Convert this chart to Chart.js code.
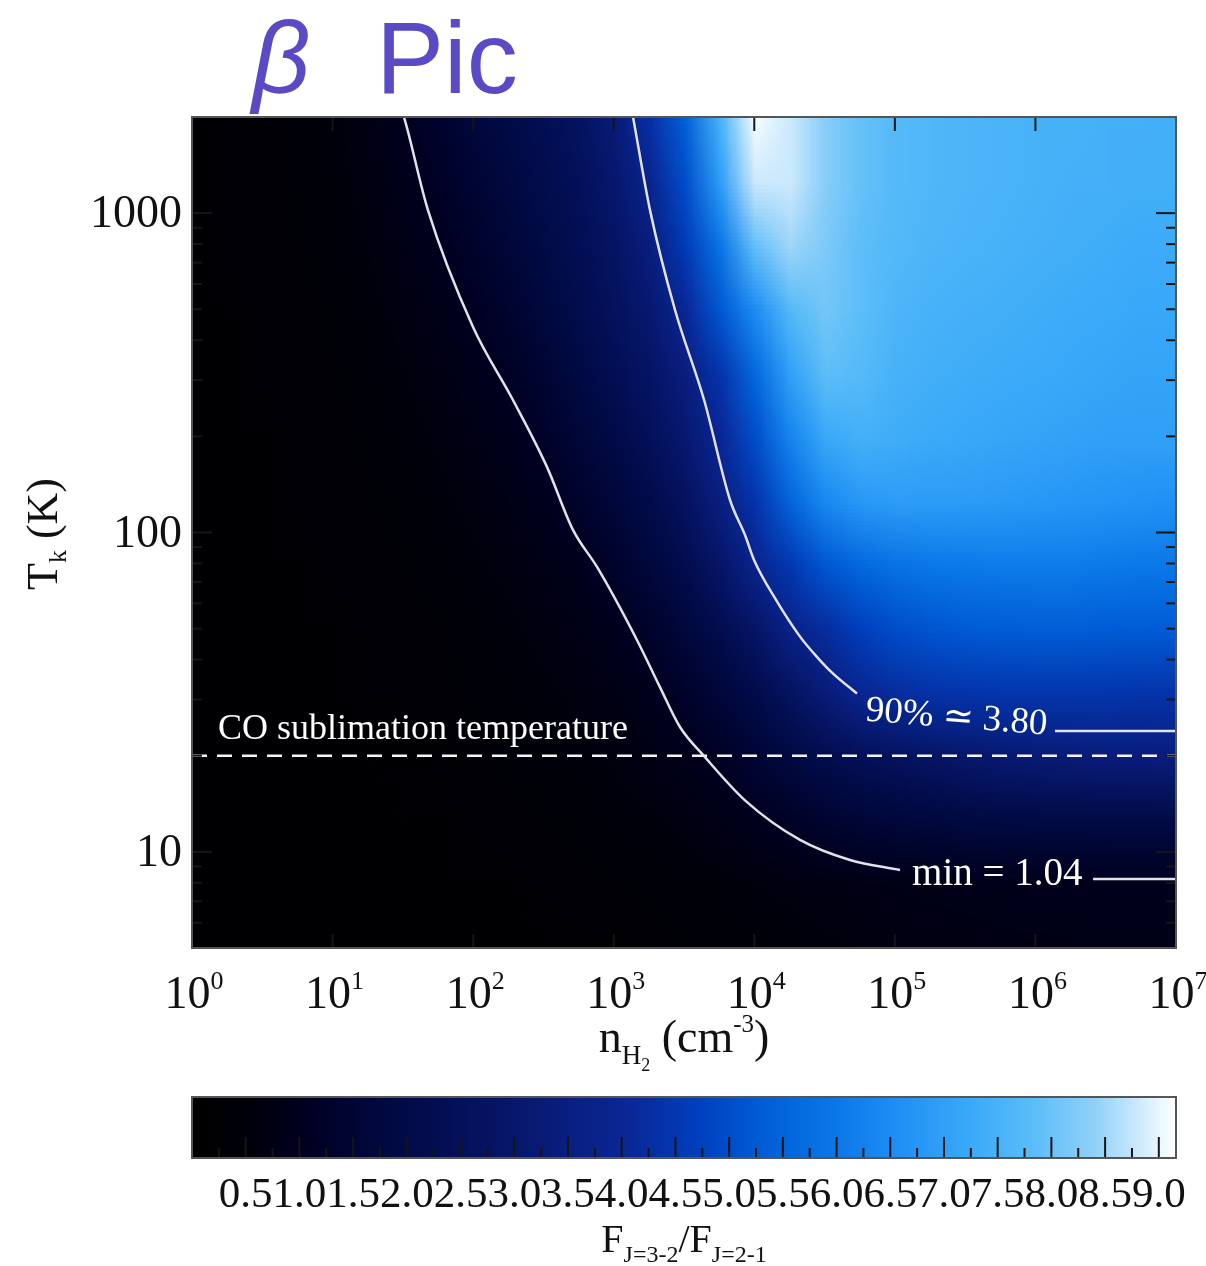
<!DOCTYPE html>
<html>
<head>
<meta charset="utf-8">
<script src="https://cdn.jsdelivr.net/npm/chart.js@4.4.1/dist/chart.umd.min.js"></script>
<style>
  html, body { margin: 0; padding: 0; background: #fff; }
  #wrap { position: relative; width: 1206px; height: 1266px; overflow: hidden; }
  canvas { position: absolute; left: 0; }
  #main { top: 0; }
  #bar { top: 1080px; }
</style>
</head>
<body>
<div id="wrap">
  <canvas id="main" width="1206" height="1080"></canvas>
  <canvas id="bar" width="1206" height="186"></canvas>
</div>
<script>
// grid of the line ratio map
const nDensity = [1, 1.778, 3.162, 5.623, 10, 17.78, 31.62, 56.23, 100, 177.8, 316.2, 562.3,
  1000, 1778, 3162, 5623, 10000, 17783, 31623, 56234, 100000, 177828, 316228, 562341,
  1000000, 1778279, 3162278, 5623413, 10000000];
const tempGrid = [1995, 1259, 794, 501, 316, 200, 126, 79.4, 50.1, 31.6, 20.0, 12.6, 7.94, 5.01];

const ratioT1995 = [0.2, 0.25, 0.3, 0.4, 0.55, 0.75, 1.04, 1.35, 1.7, 2.0, 2.35, 2.75, 3.3, 4.3, 5.4, 7.5, 9.1, 8.8, 8.3, 7.95, 7.75, 7.65, 7.6, 7.55, 7.5, 7.5, 7.45, 7.45, 7.4];
const ratioT1259 = [0.2, 0.25, 0.3, 0.38, 0.5, 0.68, 0.9, 1.2, 1.5, 1.8, 2.15, 2.55, 3.05, 3.85, 5.0, 6.9, 8.8, 8.8, 8.3, 7.95, 7.75, 7.65, 7.6, 7.55, 7.5, 7.45, 7.45, 7.4, 7.4];
const ratioT794 = [0.2, 0.24, 0.28, 0.35, 0.45, 0.6, 0.8, 1.0, 1.3, 1.6, 1.95, 2.35, 2.8, 3.4, 4.6, 5.9, 7.9, 8.5, 8.2, 7.85, 7.7, 7.6, 7.55, 7.5, 7.45, 7.4, 7.35, 7.3, 7.3];
const ratioT501 = [0.18, 0.22, 0.26, 0.32, 0.4, 0.52, 0.68, 0.85, 1.1, 1.4, 1.75, 2.15, 2.6, 3.1, 4.0, 5.2, 6.5, 7.7, 8.1, 7.85, 7.6, 7.5, 7.45, 7.4, 7.35, 7.3, 7.25, 7.2, 7.2];
const ratioT316 = [0.17, 0.2, 0.24, 0.29, 0.36, 0.45, 0.58, 0.73, 0.92, 1.15, 1.5, 1.9, 2.35, 2.85, 3.45, 4.4, 5.6, 7.0, 7.85, 7.75, 7.5, 7.4, 7.35, 7.3, 7.25, 7.2, 7.15, 7.1, 7.1];
const ratioT200 = [0.16, 0.19, 0.22, 0.26, 0.32, 0.4, 0.5, 0.62, 0.78, 0.96, 1.25, 1.6, 2.0, 2.5, 3.1, 4.0, 5.0, 6.3, 7.2, 7.45, 7.35, 7.25, 7.2, 7.15, 7.1, 7.05, 7.0, 7.0, 7.0];
const ratioT126 = [0.15, 0.17, 0.2, 0.23, 0.28, 0.34, 0.42, 0.52, 0.65, 0.8, 0.98, 1.3, 1.65, 2.1, 2.65, 3.5, 4.4, 5.5, 6.4, 6.8, 6.9, 6.9, 6.9, 6.85, 6.8, 6.75, 6.7, 6.65, 6.6];
const ratioT79 = [0.14, 0.16, 0.18, 0.21, 0.25, 0.3, 0.36, 0.44, 0.54, 0.66, 0.8, 0.98, 1.3, 1.7, 2.2, 2.9, 3.8, 4.5, 5.2, 5.6, 5.85, 6.0, 6.05, 6.1, 6.1, 6.1, 6.05, 6.0, 6.0];
const ratioT50 = [0.13, 0.15, 0.17, 0.19, 0.22, 0.26, 0.31, 0.37, 0.45, 0.54, 0.65, 0.8, 0.98, 1.3, 1.7, 2.2, 2.9, 3.7, 4.2, 4.7, 5.0, 5.15, 5.25, 5.3, 5.35, 5.35, 5.3, 5.3, 5.3];
const ratioT32 = [0.12, 0.14, 0.15, 0.17, 0.2, 0.23, 0.27, 0.32, 0.38, 0.45, 0.54, 0.65, 0.78, 0.95, 1.25, 1.65, 2.1, 2.7, 3.3, 3.9, 4.2, 4.35, 4.4, 4.45, 4.45, 4.45, 4.45, 4.4, 4.4];
const ratioT20 = [0.11, 0.12, 0.14, 0.15, 0.17, 0.2, 0.23, 0.27, 0.32, 0.38, 0.45, 0.53, 0.63, 0.75, 0.9, 1.15, 1.5, 1.85, 2.2, 2.45, 2.65, 2.85, 3.0, 3.12, 3.22, 3.3, 3.35, 3.38, 3.4];
const ratioT13 = [0.1, 0.11, 0.12, 0.13, 0.15, 0.17, 0.19, 0.22, 0.26, 0.3, 0.35, 0.41, 0.48, 0.56, 0.66, 0.8, 0.98, 1.2, 1.4, 1.55, 1.65, 1.73, 1.8, 1.85, 1.88, 1.9, 1.92, 1.94, 1.95];
const ratioT8 = [0.1, 0.1, 0.11, 0.12, 0.13, 0.14, 0.16, 0.18, 0.2, 0.22, 0.25, 0.29, 0.33, 0.38, 0.45, 0.51, 0.58, 0.65, 0.7, 0.74, 0.8, 0.84, 0.87, 0.9, 0.92, 0.93, 0.94, 0.95, 0.95];
const ratioT5 = [0.08, 0.08, 0.09, 0.09, 0.1, 0.11, 0.12, 0.13, 0.15, 0.17, 0.19, 0.22, 0.25, 0.29, 0.34, 0.39, 0.45, 0.5, 0.55, 0.6, 0.64, 0.68, 0.71, 0.74, 0.76, 0.78, 0.79, 0.8, 0.8];
const ratioGrid = [ratioT1995, ratioT1259, ratioT794, ratioT501, ratioT316, ratioT200, ratioT126,
  ratioT79, ratioT50, ratioT32, ratioT20, ratioT13, ratioT8, ratioT5];

// contours
const minContourN = [29.2, 32.2, 47.7, 99.8, 192, 335, 513, 761, 1466, 2133, 2960, 4460, 8590, 21150, 47970, 108900];
const minContourT = [2259, 2000, 1022, 440, 260, 160.5, 101.9, 78.0, 46.0, 32.8, 24.6, 19.8, 14.5, 10.9, 9.43, 8.77];
const pctContourN = [1284, 1372, 1812, 2730, 4396, 6720, 8590, 9960, 14280, 21150, 27480, 35700, 53800];
const pctContourT = [2345, 2000, 1022, 497.5, 260, 126.4, 98.2, 82, 61.5, 47.2, 41.1, 36.4, 31.3];
const minTailN = [2.57e6, 1.2e7];
const minTailT = [8.22, 8.22];
const pctTailN = [1.377e6, 1.2e7];
const pctTailT = [23.9, 23.9];
const coLineN = [1, 1e7];
const coLineT = [20, 20];

// axes
const xTickValues = [1, 10, 100, 1e3, 1e4, 1e5, 1e6, 1e7];
const xTickPowers = ['0', '1', '2', '3', '4', '5', '6', '7'];
const yTickValues = [10, 100, 1000];
const yTickLabels = ['10', '100', '1000'];
const yMinorValues = [5, 6, 7, 8, 9, 20, 30, 40, 50, 60, 70, 80, 90, 200, 300, 400, 500, 600, 700, 800, 900, 2000];
const barTickLabels = ['0.5', '1.0', '1.5', '2.0', '2.5', '3.0', '3.5', '4.0', '4.5', '5.0', '5.5', '6.0', '6.5', '7.0', '7.5', '8.0', '8.5', '9.0'];
const barMinorValues = [0.25, 0.75, 1.25, 1.75, 2.25, 2.75, 3.25, 3.75, 4.25, 4.75, 5.25, 5.75, 6.25, 6.75, 7.25, 7.75, 8.25, 8.75];

// colour table
const cmapValues = [0, 0.5, 1.1, 1.7, 2.3, 2.9, 3.5, 4.1, 4.7, 5.3, 6.0, 6.6, 7.2, 7.8, 8.4, 9.0, 9.16];
const cmapColors = ['#000000', '#00000a', '#000022', '#00083c', '#030e52', '#061566', '#0a1e80', '#0a2898',
  '#003ebc', '#005cd6', '#0a78e8', '#2090f6', '#38a8f8', '#58bcf8', '#90d0f8', '#e8f6ff', '#ffffff'];

const serif = '"Liberation Serif", "Times New Roman", serif';
const sans = '"Liberation Sans", Arial, sans-serif';

function toRgb(hex) {
  return [parseInt(hex.slice(1, 3), 16), parseInt(hex.slice(3, 5), 16), parseInt(hex.slice(5, 7), 16)];
}
function ratioColor(v) {
  const n = cmapValues.length;
  if (v <= cmapValues[0]) return toRgb(cmapColors[0]);
  for (let k = 1; k < n; k++) {
    if (v <= cmapValues[k]) {
      const t = (v - cmapValues[k - 1]) / (cmapValues[k] - cmapValues[k - 1]);
      const a = toRgb(cmapColors[k - 1]), b = toRgb(cmapColors[k]);
      return a.map((c, i) => Math.round(c + (b[i] - c) * t));
    }
  }
  return toRgb(cmapColors[n - 1]);
}
function pairs(xs, ys) {
  return xs.map((x, i) => ({ x: x, y: ys[i] }));
}
// text made of pieces: [text, size, baseline shift]
function drawParts(ctx, parts, x, y, center) {
  let w = 0;
  parts.forEach(p => { ctx.font = p[1] + 'px ' + serif; w += ctx.measureText(p[0]).width; });
  let cx = center ? x - w / 2 : x;
  ctx.textAlign = 'left';
  parts.forEach(p => {
    ctx.font = p[1] + 'px ' + serif;
    ctx.fillText(p[0], cx, y + p[2]);
    cx += ctx.measureText(p[0]).width;
  });
}

const gridPoints = [];
tempGrid.forEach((t, j) => nDensity.forEach((n, i) => gridPoints.push({ x: n, y: t, v: ratioGrid[j][i] })));

const heatmap = {
  id: 'heatmap',
  beforeDatasetsDraw(chart) {
    const { ctx, chartArea: a } = chart;
    const els = chart.getDatasetMeta(0).data;
    const nx = nDensity.length, ny = tempGrid.length;
    const off = document.createElement('canvas');
    off.width = nx; off.height = ny;
    const octx = off.getContext('2d');
    const img = octx.createImageData(nx, ny);
    gridPoints.forEach((p, k) => {
      const c = ratioColor(p.v);
      img.data[k * 4] = c[0]; img.data[k * 4 + 1] = c[1]; img.data[k * 4 + 2] = c[2]; img.data[k * 4 + 3] = 255;
    });
    octx.putImageData(img, 0, 0);
    const first = els[0], last = els[nx * ny - 1];
    const dx = (last.x - first.x) / (nx - 1), dy = (last.y - first.y) / (ny - 1);
    ctx.save();
    ctx.beginPath(); ctx.rect(a.left, a.top, a.right - a.left, a.bottom - a.top); ctx.clip();
    ctx.imageSmoothingEnabled = true;
    ctx.imageSmoothingQuality = 'low';
    ctx.drawImage(off, first.x - dx / 2, first.y - dy / 2, last.x - first.x + dx, last.y - first.y + dy);
    ctx.restore();
  }
};

const frame = {
  id: 'frame',
  afterDatasetsDraw(chart) {
    const { ctx, chartArea: a, scales: { x, y } } = chart;
    const line = (x0, y0, x1, y1) => { ctx.beginPath(); ctx.moveTo(x0, y0); ctx.lineTo(x1, y1); ctx.stroke(); };
    ctx.save();
    ctx.strokeStyle = '#151515'; ctx.lineWidth = 2;
    xTickValues.forEach(v => {
      const px = x.getPixelForValue(v);
      line(px, a.top, px, a.top + 14); line(px, a.bottom, px, a.bottom - 14);
    });
    yTickValues.forEach(v => {
      const py = y.getPixelForValue(v);
      line(a.left, py, a.left + 20, py); line(a.right, py, a.right - 20, py);
    });
    yMinorValues.forEach(v => {
      const py = y.getPixelForValue(v);
      line(a.left, py, a.left + 10, py); line(a.right, py, a.right - 10, py);
    });
    ctx.strokeStyle = '#555'; ctx.lineWidth = 2;
    ctx.strokeRect(a.left, a.top, a.right - a.left, a.bottom - a.top);

    // labels inside the map
    ctx.fillStyle = '#ffffff';
    ctx.textAlign = 'left'; ctx.textBaseline = 'alphabetic';
    ctx.font = '36px ' + serif;
    ctx.fillText('CO sublimation temperature', x.getPixelForValue(coLineN[0]) + 26, y.getPixelForValue(coLineT[0]) - 17);
    const pe = pctContourN.length - 1;
    ctx.save();
    ctx.translate(x.getPixelForValue(pctContourN[pe]) + 8, y.getPixelForValue(pctContourT[pe]) + 27);
    ctx.rotate(4.4 * Math.PI / 180);
    ctx.font = '37px ' + serif;
    ctx.fillText('90% \u2243 3.80', 0, 0);
    ctx.restore();
    const me = minContourN.length - 1;
    ctx.font = '39px ' + serif;
    ctx.fillText('min = 1.04', x.getPixelForValue(minContourN[me]) + 12, y.getPixelForValue(minContourT[me]) + 15);

    // tick labels
    ctx.fillStyle = '#111';
    xTickValues.forEach((v, i) => {
      drawParts(ctx, [['10', 46, 0], [xTickPowers[i], 26, -19]], x.getPixelForValue(v) + 2, a.bottom + 60, true);
    });
    ctx.font = '46px ' + serif;
    ctx.textAlign = 'right'; ctx.textBaseline = 'middle';
    yTickValues.forEach((v, i) => ctx.fillText(yTickLabels[i], a.left - 10, y.getPixelForValue(v) + 2));
    ctx.textBaseline = 'alphabetic';

    // axis titles
    drawParts(ctx, [['n', 46, 0], ['H', 27, 12], ['2', 18, 19], [' (cm', 46, 0], ['-3', 25, -20], [')', 46, 0]],
      (a.left + a.right) / 2, 1052, true);
    ctx.save();
    ctx.translate(57, 534);
    ctx.rotate(-Math.PI / 2);
    drawParts(ctx, [['T', 44, 0], ['k', 26, 9], [' (K)', 44, 0]], 0, 0, true);
    ctx.restore();

    // title
    ctx.fillStyle = '#5a4ac6';
    ctx.textAlign = 'left';
    ctx.font = 'italic 102px ' + sans;
    ctx.fillText('\u03b2', 252, 93);
    ctx.font = '102px ' + sans;
    ctx.fillText('Pic', 376, 93);
    ctx.restore();
  }
};

const contourStyle = { showLine: true, borderColor: '#e2e2ea', borderWidth: 2.5, pointRadius: 0 };

new Chart(document.getElementById('main'), {
  type: 'scatter',
  data: {
    datasets: [
      { label: 'ratio', data: gridPoints, pointRadius: 0, showLine: false },
      { label: 'min', data: pairs(minContourN, minContourT), ...contourStyle, cubicInterpolationMode: 'monotone' },
      { label: 'min tail', data: pairs(minTailN, minTailT), ...contourStyle },
      { label: '90%', data: pairs(pctContourN, pctContourT), ...contourStyle, cubicInterpolationMode: 'monotone' },
      { label: '90% tail', data: pairs(pctTailN, pctTailT), ...contourStyle },
      { label: 'CO', data: pairs(coLineN, coLineT), showLine: true, borderColor: '#f4f4f4', borderWidth: 2.5, borderDash: [15, 10], pointRadius: 0 }
    ]
  },
  options: {
    responsive: false,
    animation: false,
    devicePixelRatio: 1,
    layout: { padding: { left: 192, top: 117, right: 30, bottom: 132 } },
    plugins: { legend: { display: false }, tooltip: { enabled: false } },
    scales: {
      x: { type: 'logarithmic', min: 1, max: 1e7, display: false },
      y: { type: 'logarithmic', min: 5, max: 2000, display: false }
    }
  },
  plugins: [heatmap, frame]
});

const colorbar = {
  id: 'colorbar',
  afterDatasetsDraw(chart) {
    const { ctx, chartArea: a, scales: { x } } = chart;
    const x0 = x.getPixelForValue(cmapValues[0]);
    const x1 = x.getPixelForValue(cmapValues[cmapValues.length - 1]);
    const g = ctx.createLinearGradient(x0, 0, x1, 0);
    cmapValues.forEach((v, i) => g.addColorStop((x.getPixelForValue(v) - x0) / (x1 - x0), cmapColors[i]));
    ctx.save();
    ctx.fillStyle = g;
    ctx.fillRect(a.left, a.top, a.right - a.left, a.bottom - a.top);
    ctx.strokeStyle = '#151515'; ctx.lineWidth = 2;
    const line = (xa, ya, xb, yb) => { ctx.beginPath(); ctx.moveTo(xa, ya); ctx.lineTo(xb, yb); ctx.stroke(); };
    barTickLabels.forEach(t => { const px = x.getPixelForValue(parseFloat(t)); line(px, a.bottom, px, a.bottom - 21); });
    barMinorValues.forEach(v => { const px = x.getPixelForValue(v); line(px, a.bottom, px, a.bottom - 10); });
    ctx.strokeStyle = '#555';
    ctx.strokeRect(a.left, a.top, a.right - a.left, a.bottom - a.top);
    ctx.fillStyle = '#111';
    ctx.font = '43px ' + serif;
    ctx.textAlign = 'center';
    barTickLabels.forEach(t => ctx.fillText(t, x.getPixelForValue(parseFloat(t)), a.bottom + 49));
    drawParts(ctx, [['F', 40, 0], ['J=3-2', 24, 10], ['/F', 40, 0], ['J=2-1', 24, 10]], (a.left + a.right) / 2, 172, true);
    ctx.restore();
  }
};

new Chart(document.getElementById('bar'), {
  type: 'scatter',
  data: { datasets: [{ data: [] }] },
  options: {
    responsive: false,
    animation: false,
    devicePixelRatio: 1,
    layout: { padding: { left: 192, top: 17, right: 30, bottom: 108 } },
    plugins: { legend: { display: false }, tooltip: { enabled: false } },
    scales: {
      x: { type: 'linear', min: 0, max: 9.16, display: false },
      y: { type: 'linear', min: 0, max: 1, display: false }
    }
  },
  plugins: [colorbar]
});
</script>
</body>
</html>
